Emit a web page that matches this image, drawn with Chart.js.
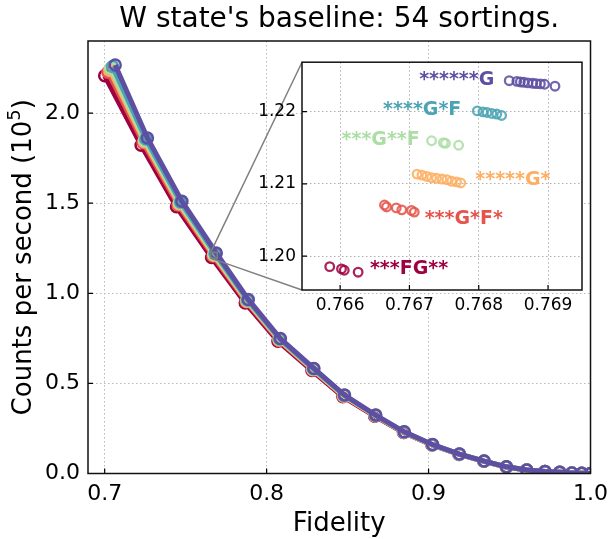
<!DOCTYPE html>
<html><head><meta charset="utf-8">
<script src="https://cdn.jsdelivr.net/npm/chart.js@4.4.0/dist/chart.umd.min.js"></script>
<style>
html,body{margin:0;padding:0;background:#fff;}
#wrap{position:relative;width:616px;height:539px;overflow:hidden;}
#main{position:absolute;left:0;top:0;width:616px;height:539px;}
#inset{position:absolute;left:200px;top:46px;width:400px;height:274px;}
</style></head><body>
<div id="wrap"><canvas id="main" width="616" height="539"></canvas><canvas id="inset" width="400" height="274"></canvas></div>
<script>
// ---------- data ----------
const titleText = "W state's baseline: 54 sortings.";
const xLabel = "Fidelity";
const yLabel = "Counts per second (10";
const yLabelSup = "5";

const xTicks = [0.7, 0.8, 0.9, 1.0];
const yTicks = [0.0, 0.5, 1.0, 1.5, 2.0];
const insetXTicks = [0.766, 0.767, 0.768, 0.769];
const insetYTicks = [1.20, 1.21, 1.22];

const groupNames = ['******G', '****G*F', '***G**F', '*****G*', '***G*F*', '***FG**'];
const groupColors = ['#5e4fa2', '#4ba3b3', '#abdda4', '#fdae61', '#e4544a', '#9e0142'];

// main curves (one per group), fidelity and rate (1e5 counts/s)
const fidPurple = [0.7065, 0.7264, 0.7477, 0.7689, 0.7887, 0.8085, 0.8292, 0.8481, 0.8674, 0.8850, 0.9025, 0.9191, 0.9343, 0.9481, 0.9607, 0.9719, 0.9810, 0.9885, 0.9946, 1.0000];
const ratePurple = [2.267, 1.862, 1.511, 1.2236, 0.966, 0.749, 0.583, 0.435, 0.324, 0.231, 0.161, 0.108, 0.069, 0.037, 0.019, 0.011, 0.0066, 0.003, 0.001, 0.000];
const fidTeal = [0.7049, 0.7254, 0.7469, 0.7682, 0.7882, 0.8081, 0.8289, 0.8479, 0.8672, 0.8849, 0.9024, 0.9190, 0.9343, 0.9481, 0.9607, 0.9719, 0.9810, 0.9885, 0.9946, 1.0000];
const rateTeal = [2.258, 1.856, 1.506, 1.2198, 0.963, 0.747, 0.581, 0.434, 0.323, 0.230, 0.160, 0.108, 0.069, 0.037, 0.019, 0.011, 0.0066, 0.003, 0.001, 0.000];
const fidGreen = [0.7036, 0.7246, 0.7462, 0.7675, 0.7879, 0.8078, 0.8287, 0.8477, 0.8671, 0.8848, 0.9023, 0.9190, 0.9342, 0.9480, 0.9606, 0.9718, 0.9810, 0.9885, 0.9946, 1.0000];
const rateGreen = [2.249, 1.850, 1.502, 1.2157, 0.960, 0.745, 0.579, 0.432, 0.322, 0.230, 0.160, 0.107, 0.069, 0.037, 0.019, 0.011, 0.0066, 0.003, 0.001, 0.000];
const fidOrange = [0.7032, 0.7245, 0.7460, 0.7674, 0.7878, 0.8078, 0.8286, 0.8476, 0.8670, 0.8848, 0.9023, 0.9190, 0.9342, 0.9480, 0.9606, 0.9718, 0.9810, 0.9885, 0.9946, 1.0000];
const rateOrange = [2.237, 1.841, 1.495, 1.2107, 0.956, 0.741, 0.577, 0.430, 0.321, 0.229, 0.159, 0.107, 0.068, 0.036, 0.019, 0.011, 0.0065, 0.003, 0.001, 0.000];
const fidRed = [0.7020, 0.7237, 0.7453, 0.7669, 0.7874, 0.8075, 0.8284, 0.8474, 0.8669, 0.8847, 0.9022, 0.9189, 0.9342, 0.9480, 0.9606, 0.9718, 0.9810, 0.9885, 0.9946, 1.0000];
const rateRed = [2.227, 1.835, 1.490, 1.2066, 0.953, 0.739, 0.575, 0.429, 0.320, 0.228, 0.159, 0.107, 0.068, 0.036, 0.019, 0.011, 0.0065, 0.003, 0.001, 0.000];
const fidDarkRed = [0.7000, 0.7225, 0.7443, 0.7660, 0.7868, 0.8070, 0.8280, 0.8471, 0.8667, 0.8845, 0.9021, 0.9188, 0.9341, 0.9480, 0.9606, 0.9718, 0.9810, 0.9885, 0.9946, 1.0000];
const rateDarkRed = [2.207, 1.821, 1.480, 1.1983, 0.946, 0.734, 0.571, 0.426, 0.318, 0.227, 0.158, 0.106, 0.068, 0.036, 0.019, 0.011, 0.0065, 0.003, 0.001, 0.000];

// inset: individual sortings at the 4th operating point
const insetFid_G = [0.76844, 0.76855, 0.76860, 0.76865, 0.76871, 0.76878, 0.76883, 0.76889, 0.76895, 0.76910];
const insetRate_G = [1.22426, 1.22417, 1.22409, 1.22404, 1.22396, 1.22390, 1.22386, 1.22382, 1.22377, 1.22350];
const insetFid_GsF = [0.76798, 0.76806, 0.76812, 0.76819, 0.76826, 0.76833];
const insetRate_GsF = [1.22009, 1.21996, 1.21987, 1.21973, 1.21965, 1.21946];
const insetFid_GssF = [0.76732, 0.76749, 0.76752, 0.76771];
const insetRate_GssF = [1.21596, 1.21569, 1.21561, 1.21534];
const insetFid_Gs = [0.76711, 0.76718, 0.76725, 0.76732, 0.76739, 0.76747, 0.76754, 0.76761, 0.76768, 0.76774];
const insetRate_Gs = [1.21135, 1.21121, 1.21103, 1.21085, 1.21077, 1.21067, 1.21058, 1.21036, 1.21027, 1.21013];
const insetFid_GsFs = [0.76664, 0.76667, 0.76681, 0.76689, 0.76703, 0.76707];
const insetRate_GsFs = [1.20708, 1.20681, 1.20668, 1.20641, 1.20633, 1.20610];
const insetFid_FG = [0.76585, 0.76602, 0.76606, 0.76626];
const insetRate_FG = [1.19856, 1.19825, 1.19806, 1.19779];

// inset label anchors (data coordinates, left/middle)
const labelFid = [0.76714, 0.76662, 0.76602, 0.76795, 0.76722, 0.76643];
const labelRate = [1.22430, 1.22023, 1.21610, 1.21050, 1.20520, 1.19825];

// axis limits
const xMin = 0.6897, xMax = 1.0, yMin = 0.0, yMax = 2.4;
const insetXMin = 0.76545, insetXMax = 0.76949, insetYMin = 1.19533, insetYMax = 1.22682;

// ---------- helpers ----------
const FONT = "'DejaVu Sans', sans-serif";
function pts(xs, ys) { return xs.map((v, i) => ({ x: v, y: ys[i] })); }

const frameTicks = {
  id: 'frameTicks',
  afterDraw(chart, args, o) {
    const { ctx, chartArea: a, scales: { x, y } } = chart;
    ctx.save();
    ctx.strokeStyle = '#000';
    ctx.lineWidth = 1.2;
    ctx.beginPath();
    x.ticks.forEach(t => { const p = x.getPixelForValue(t.value); ctx.moveTo(p, a.bottom); ctx.lineTo(p, a.bottom - 5); });
    y.ticks.forEach(t => { const p = y.getPixelForValue(t.value); ctx.moveTo(a.left, p); ctx.lineTo(a.left + 5, p); });
    ctx.stroke();
    ctx.lineWidth = 1.5;
    ctx.strokeStyle = '#111';
    ctx.strokeRect(a.left, a.top, a.width, a.height);
    ctx.restore();
  }
};

const mainText = {
  id: 'mainText',
  afterDraw(chart) {
    const { ctx, chartArea: a } = chart;
    ctx.save();
    ctx.fillStyle = '#000';
    ctx.textBaseline = 'alphabetic';
    ctx.textAlign = 'center';
    ctx.font = '28px ' + FONT;
    ctx.fillText(titleText, (a.left + a.right) / 2, 27);
    ctx.font = '26px ' + FONT;
    ctx.fillText(xLabel, (a.left + a.right) / 2, 531);
    // y label with superscript
    ctx.translate(31, (a.top + a.bottom) / 2);
    ctx.rotate(-Math.PI / 2);
    ctx.textAlign = 'left';
    ctx.font = '26px ' + FONT;
    const w1 = ctx.measureText(yLabel).width;
    ctx.font = '18px ' + FONT;
    const w2 = ctx.measureText(yLabelSup).width;
    ctx.font = '26px ' + FONT;
    const w3 = ctx.measureText(')').width;
    let sx = -(w1 + w2 + w3) / 2;
    ctx.fillText(yLabel, sx, 0);
    ctx.font = '18px ' + FONT;
    ctx.fillText(yLabelSup, sx + w1, -11);
    ctx.font = '26px ' + FONT;
    ctx.fillText(')', sx + w1 + w2, 0);
    ctx.restore();
  }
};

const mainSeries = [
  [fidPurple, ratePurple], [fidTeal, rateTeal], [fidGreen, rateGreen],
  [fidOrange, rateOrange], [fidRed, rateRed], [fidDarkRed, rateDarkRed]
];

const mainChart = new Chart(document.getElementById('main'), {
  type: 'line',
  data: {
    datasets: mainSeries.map((s, i) => ({
      data: pts(s[0], s[1]),
      borderColor: groupColors[i],
      backgroundColor: 'transparent',
      borderWidth: 5,
      pointRadius: 5.5,
      pointBorderWidth: 2.5,
      pointBorderColor: groupColors[i],
      pointBackgroundColor: 'rgba(0,0,0,0)',
      tension: 0,
      order: i
    }))
  },
  options: {
    responsive: false, animation: false,
    devicePixelRatio: 1,
    layout: { padding: { top: 41, right: 18, left: 0, bottom: 0 } },
    plugins: { legend: { display: false }, tooltip: { enabled: false } },
    scales: {
      x: {
        type: 'linear', min: xMin, max: xMax,
        afterBuildTicks: s => { s.ticks = xTicks.map(v => ({ value: v })); },
        afterFit: s => { s.height = 65.5; },
        grid: { color: '#b8b8b8', lineWidth: 1, drawTicks: false },
        border: { display: false, dash: [1.5, 2.5] },
        ticks: { color: '#000', font: { family: FONT, size: 22 }, padding: 8, maxRotation: 0, callback: v => v.toFixed(1) }
      },
      y: {
        type: 'linear', min: yMin, max: yMax,
        afterBuildTicks: s => { s.ticks = yTicks.map(v => ({ value: v })); },
        afterFit: s => { s.width = 88; },
        grid: { color: '#b8b8b8', lineWidth: 1, drawTicks: false },
        border: { display: false, dash: [1.5, 2.5] },
        ticks: { color: '#000', font: { family: FONT, size: 22 }, padding: 8, callback: v => v.toFixed(1) }
      }
    }
  },
  plugins: [frameTicks, mainText]
});

// ---------- inset ----------
const INSET_LEFT = 200, INSET_TOP = 46;
const insetSeries = [
  [insetFid_G, insetRate_G], [insetFid_GsF, insetRate_GsF], [insetFid_GssF, insetRate_GssF],
  [insetFid_Gs, insetRate_Gs], [insetFid_GsFs, insetRate_GsFs], [insetFid_FG, insetRate_FG]
];

const insetDeco = {
  id: 'insetDeco',
  beforeDraw(chart) {
    const { ctx, chartArea: a } = chart;
    ctx.save();
    ctx.fillStyle = '#fff';
    ctx.fillRect(a.left, a.top, a.width, a.height);
    const mx = mainChart.scales.x, my = mainChart.scales.y;
    const rl = mx.getPixelForValue(insetXMin) - INSET_LEFT;
    const rr = mx.getPixelForValue(insetXMax) - INSET_LEFT;
    const rt = my.getPixelForValue(insetYMax) - INSET_TOP;
    const rb = my.getPixelForValue(insetYMin) - INSET_TOP;
    ctx.strokeStyle = '#808080';
    ctx.lineWidth = 1.5;
    ctx.strokeRect(rl, rt, rr - rl, rb - rt);
    ctx.beginPath();
    ctx.moveTo(rl, rt); ctx.lineTo(a.left, a.top);
    ctx.moveTo(rl, rb); ctx.lineTo(a.left, a.bottom);
    ctx.stroke();
    ctx.restore();
  },
  afterDatasetsDraw(chart) {
    const { ctx, scales: { x, y } } = chart;
    ctx.save();
    ctx.font = 'bold 19px ' + FONT;
    ctx.textAlign = 'left';
    ctx.textBaseline = 'middle';
    groupNames.forEach((n, i) => {
      ctx.fillStyle = groupColors[i];
      ctx.fillText(n, x.getPixelForValue(labelFid[i]), y.getPixelForValue(labelRate[i]));
    });
    ctx.restore();
  }
};

new Chart(document.getElementById('inset'), {
  type: 'scatter',
  data: {
    datasets: insetSeries.map((s, i) => ({
      data: pts(s[0], s[1]),
      showLine: false,
      pointRadius: 4.3,
      pointBorderWidth: 2.3,
      pointBorderColor: groupColors[i] + 'dd',
      pointBackgroundColor: 'rgba(0,0,0,0)',
      order: i
    }))
  },
  options: {
    responsive: false, animation: false,
    devicePixelRatio: 1,
    layout: { padding: { top: 10, right: 18, left: 0, bottom: 0 } },
    plugins: { legend: { display: false }, tooltip: { enabled: false } },
    scales: {
      x: {
        type: 'linear', min: insetXMin, max: insetXMax,
        afterBuildTicks: s => { s.ticks = insetXTicks.map(v => ({ value: v })); },
        afterFit: s => { s.height = 30; },
        grid: { color: '#b0b0b0', lineWidth: 1, drawTicks: false },
        border: { display: false, dash: [1.5, 2.5] },
        ticks: { color: '#000', font: { family: FONT, size: 17 }, padding: 5, maxRotation: 0, callback: v => v.toFixed(3) }
      },
      y: {
        type: 'linear', min: insetYMin, max: insetYMax,
        afterBuildTicks: s => { s.ticks = insetYTicks.map(v => ({ value: v })); },
        afterFit: s => { s.width = 102; },
        grid: { color: '#b0b0b0', lineWidth: 1, drawTicks: false },
        border: { display: false, dash: [1.5, 2.5] },
        ticks: { color: '#000', font: { family: FONT, size: 17 }, padding: 6, callback: v => v.toFixed(2) }
      }
    }
  },
  plugins: [insetDeco, Object.assign({}, frameTicks, { id: 'frameTicks2' })]
});
</script>
</body></html>
